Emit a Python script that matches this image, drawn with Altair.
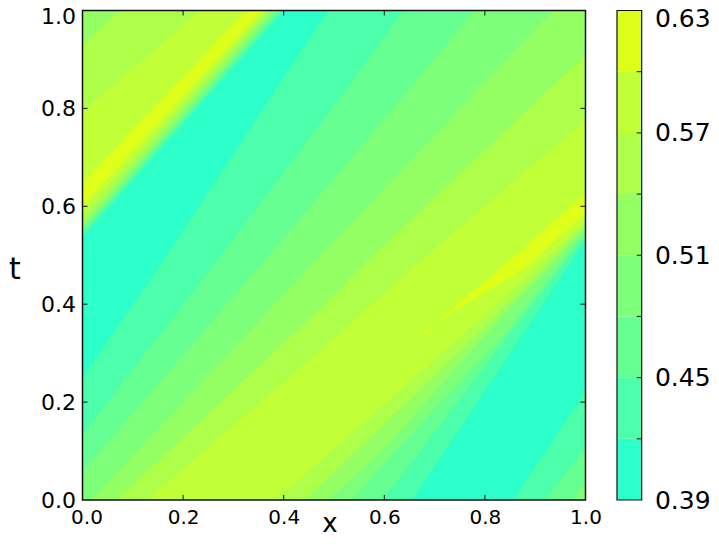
import altair as alt
import pandas as pd

# Filled-contour colours, lowest band first
band_edges = [0.39, 0.42, 0.45, 0.48, 0.51, 0.54, 0.57, 0.60, 0.63]
band_colors = ["#2dffca", "#4cffab", "#66ff91", "#7dff7a", "#94ff63", "#adff4a", "#c1ff36", "#deff19"]
L1, L2, L3, L4, L5, L6, L7, L8 = band_colors

x_ticks = [0.0, 0.2, 0.4, 0.6, 0.8, 1.0]
t_ticks = [0.0, 0.2, 0.4, 0.6, 0.8, 1.0]
bar_labels = [0.39, 0.45, 0.51, 0.57, 0.63]

# Contour boundaries: (colour below the line, x values, t values)
contours = [
    (L6, [0, .073], [.927, 1]),
    (L7, [0, .234], [.793, 1]),
    (L8, [0, .326], [.648, 1]),
    (L7, [0, .356], [.600, 1]),
    (L6, [0, .364], [.585, 1]),
    (L5, [0, .372], [.570, 1]),
    (L4, [0, .380], [.560, 1]),
    (L3, [0, .387], [.552, 1]),
    (L2, [0, .394], [.545, 1]),
    (L1, [0, .400], [.538, 1]),
    (L2, [0, .148, .488], [.249, .470, 1]),
    (L3, [0, .253, .512, .638], [.133, .470, .822, 1]),
    (L4, [0, .346, .512, .780], [.058, .470, .671, 1]),
    (L5, [.018, .446, .512, .936], [0, .470, .541, 1]),
    (L6, [.068, .512, .548, 1], [0, .429, .470, .909]),
    (L7, [.128, .512, .651, 1], [0, .341, .470, .776]),
]
fan = [
    (L6, [.385, .542, .790, 1], [0, .143, .368, .568]),
    (L5, [.442, .587, .816, 1], [0, .143, .368, .562]),
    (L4, [.488, .591, .830, 1], [0, .096, .368, .556]),
    (L3, [.536, .591, .850, 1], [0, .065, .353, .548]),
    (L2, [.597, .870, 1], [0, .368, .541]),
    (L1, [.655, .850, 1], [0, .300, .531]),
    (L2, [.856, 1], [0, .221]),
    (L3, [.919, 1], [0, .106]),
    (L4, [.973, 1], [0, .035]),
]
# Yellow islands: x, upper t, lower t
islands = [
    ([.697, .776, .827, .876, 1], [.357, .426, .470, .514, .627], [.357, .409, .440, .470, .586]),
    ([.675, .683, .691], [.343, .347, .343], [.343, .340, .343]),
    ([.690, .693, .696], [.347, .356, .349], [.347, .346, .349]),
]

FONT = "DejaVu Sans"
XS = alt.Scale(domain=[0, 1], nice=False, zero=False)
TS = alt.Scale(domain=[0, 1], nice=False, zero=False)
BS = alt.Scale(domain=[0.39, 0.63], nice=False, zero=False)

x_axis = alt.Axis(
    values=x_ticks, format=".1f", grid=False, domain=False, ticks=False,
    labelFont=FONT, labelFontSize=20, labelColor="#000", labelPadding=7,
    labelFlush=False, labelOverlap=False, labelBound=False,
    labelOffset=alt.expr("datum.value == 0 ? 4 : 0"),
    title="x", titleFont=FONT, titleFontSize=26, titleFontWeight="normal",
    titleColor="#000", titleX=247, titleY=31, titleAlign="center", titleBaseline="alphabetic",
)
y_axis = alt.Axis(
    values=t_ticks, format=".1f", grid=False, domain=False, ticks=False,
    labelFont=FONT, labelFontSize=22, labelColor="#000", labelPadding=7,
    labelFlush=False, labelOverlap=False, labelBound=False,
    labelOffset=alt.expr("datum.value == 1 ? 6 : 0"),
    title="t", titleFont=FONT, titleFontSize=30, titleFontWeight="normal",
    titleColor="#000", titleX=-74, titleY=259, titleAngle=0, titleAlign="left",
    titleBaseline="middle",
)
bar_axis = alt.Axis(
    orient="right", offset=56.4, values=bar_labels, format=".2f", grid=False,
    domain=False, ticks=False, title=None, labelFont=FONT, labelFontSize=25,
    labelColor="#000", labelPadding=12.5, labelAlign="left", labelFlush=False,
    labelOverlap=False, labelBound=False,
    labelOffset=alt.expr("datum.value > 0.62 ? 8 : 0"),
)
X0 = alt.X("x:Q", scale=XS, axis=x_axis)
T0 = alt.Y("t:Q", scale=TS, axis=y_axis)


def below(color, xs, ts):
    xs, ts = list(xs), list(ts)
    if ts[-1] == 1 and xs[-1] < 1:
        xs.append(1)
        ts.append(1)
    return (
        alt.Chart(pd.DataFrame({"x": xs, "t": ts}))
        .mark_area(color=color, opacity=1)
        .encode(x=X0, y=T0, y2=alt.Y2(datum=0))
    )


def between(color, xs, up, lo):
    return (
        alt.Chart(pd.DataFrame({"x": xs, "t": up, "t2": lo}))
        .mark_area(color=color, opacity=1)
        .encode(x=X0, y=T0, y2="t2:Q")
    )


layers = [below(L5, [0, 1], [1, 1])]
layers += [below(*c) for c in contours]
layers += [between(L8, *isl) for isl in islands]
layers += [below(*c) for c in fan]

# Inward ticks on all four sides
inner_x = [v for v in x_ticks if 0 < v < 1]
inner_t = [v for v in t_ticks if 0 < v < 1]
xt = pd.DataFrame({"x": inner_x})
tt = pd.DataFrame({"t": inner_t})
for a, b in ((0, 0.0102), (1, 0.9898)):
    layers.append(
        alt.Chart(xt).mark_rule(color="#111", strokeWidth=1).encode(
            x=X0, y=alt.Y(datum=a, scale=TS, axis=y_axis), y2=alt.Y2(datum=b))
    )
for a, b in ((0, 0.01), (1, 0.99)):
    layers.append(
        alt.Chart(tt).mark_rule(color="#111", strokeWidth=1).encode(
            y=T0, x=alt.X(datum=a, scale=XS, axis=x_axis), x2=alt.X2(datum=b))
    )

# White strip that cuts the y tick labels just left of the frame
layers.append(
    alt.Chart(pd.DataFrame({"a": [-0.0129], "b": [-0.0015], "c": [-0.016], "d": [1.02]}))
    .mark_rect(color="#fff", opacity=1, clip=False)
    .encode(
        x=alt.X("a:Q", scale=XS, axis=x_axis), x2="b:Q",
        y=alt.Y("c:Q", scale=TS, axis=y_axis), y2="d:Q",
    )
)
# Frame
layers.append(
    alt.Chart(pd.DataFrame({"a": [0], "b": [1], "c": [0], "d": [1]}))
    .mark_rect(filled=False, stroke="#111", strokeWidth=1.5, clip=False)
    .encode(
        x=alt.X("a:Q", scale=XS, axis=x_axis), x2="b:Q",
        y=alt.Y("c:Q", scale=TS, axis=y_axis), y2="d:Q",
    )
)
main = alt.layer(*layers)

# Colour bar, sharing x but with its own y scale
BAR_L, BAR_R, BAR_T = 1.0626, 1.1117, 1.1018
bar_df = pd.DataFrame(
    {"lo": band_edges[:-1], "hi": band_edges[1:], "c": band_colors,
     "l": [BAR_L] * 8, "r": [BAR_R] * 8}
)
bar = (
    alt.Chart(bar_df)
    .mark_rect(opacity=1, clip=False)
    .encode(
        x=alt.X("l:Q", scale=XS, axis=x_axis), x2="r:Q",
        y=alt.Y("lo:Q", scale=BS, axis=bar_axis),
        y2="hi:Q",
        color=alt.Color("c:N", scale=None),
    )
)
bar_ticks = (
    alt.Chart(pd.DataFrame({"v": band_edges[1:-1], "l": [BAR_T] * 7, "r": [BAR_R] * 7}))
    .mark_rule(color="#111", strokeWidth=1, clip=False)
    .encode(
        x=alt.X("l:Q", scale=XS, axis=x_axis), x2="r:Q",
        y=alt.Y("v:Q", scale=BS, axis=bar_axis),
    )
)
bar_frame = (
    alt.Chart(pd.DataFrame({"l": [BAR_L], "r": [BAR_R], "a": [0.39], "b": [0.63]}))
    .mark_rect(filled=False, stroke="#111", strokeWidth=1.2, clip=False)
    .encode(
        x=alt.X("l:Q", scale=XS, axis=x_axis), x2="r:Q",
        y=alt.Y("a:Q", scale=BS, axis=bar_axis), y2="b:Q",
    )
)
colorbar = alt.layer(bar, bar_ticks, bar_frame)

chart = (
    alt.layer(main, colorbar)
    .resolve_scale(y="independent")
    .properties(
        width=503,
        height=489.5,
        autosize=alt.AutoSizeParams(type="none"),
        padding={"left": 74.5, "top": 2.5, "right": 125.5, "bottom": 37},
        background="#ffffff",
    )
    .configure_view(stroke=None)
)
chart.save("out.html", embed_options={"renderer": "svg", "actions": False})
